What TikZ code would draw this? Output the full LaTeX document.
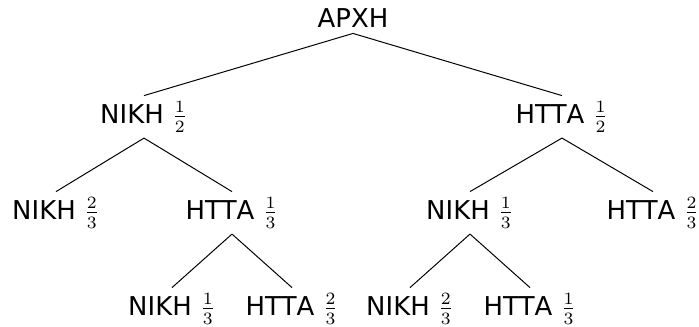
\documentclass[tikz,border=0pt]{standalone}
\usepackage{fontspec}
\setmainfont{DejaVu Sans}
\begin{document}
\begin{tikzpicture}[x=0.405pt, y=-0.405pt,
  outcome/.style={anchor=base, inner sep=0pt, text height=10.9pt, text depth=5.9pt, font=\fontsize{10.5}{12.6}\selectfont},
  rootnode/.style={outcome, text depth=2.4pt},
  branch/.style={line width=0.4pt, black}]
\useasboundingbox (0,0) rectangle (699,326);
% root
\node[rootnode] (r) at (353,27) {ΑΡΧΗ};
% first draw
\node[outcome] (a) at (144,123) {ΝΙΚΗ $\frac{1}{2}$};
\node[outcome] (b) at (562,123) {ΗΤΤΑ $\frac{1}{2}$};
% second draw
\node[outcome] (aa) at (56,219) {ΝΙΚΗ $\frac{2}{3}$};
\node[outcome] (ab) at (232,219) {ΗΤΤΑ $\frac{1}{3}$};
\node[outcome] (ba) at (470,219) {ΝΙΚΗ $\frac{1}{3}$};
\node[outcome] (bb) at (653,219) {ΗΤΤΑ $\frac{2}{3}$};
% third draw
\node[outcome] (aba) at (172,315) {ΝΙΚΗ $\frac{1}{3}$};
\node[outcome] (abb) at (292,315) {ΗΤΤΑ $\frac{2}{3}$};
\node[outcome] (baa) at (410,315) {ΝΙΚΗ $\frac{2}{3}$};
\node[outcome] (bab) at (530,315) {ΗΤΤΑ $\frac{1}{3}$};
% branches
\draw[branch] (r.south) -- (a.north);
\draw[branch] (r.south) -- (b.north);
\draw[branch] (a.south) -- (aa.north);
\draw[branch] (a.south) -- (ab.north);
\draw[branch] (b.south) -- (ba.north);
\draw[branch] (b.south) -- (bb.north);
\draw[branch] (ab.south) -- (aba.north);
\draw[branch] (ab.south) -- (abb.north);
\draw[branch] (ba.south) -- (baa.north);
\draw[branch] (ba.south) -- (bab.north);
\end{tikzpicture}
\end{document}
